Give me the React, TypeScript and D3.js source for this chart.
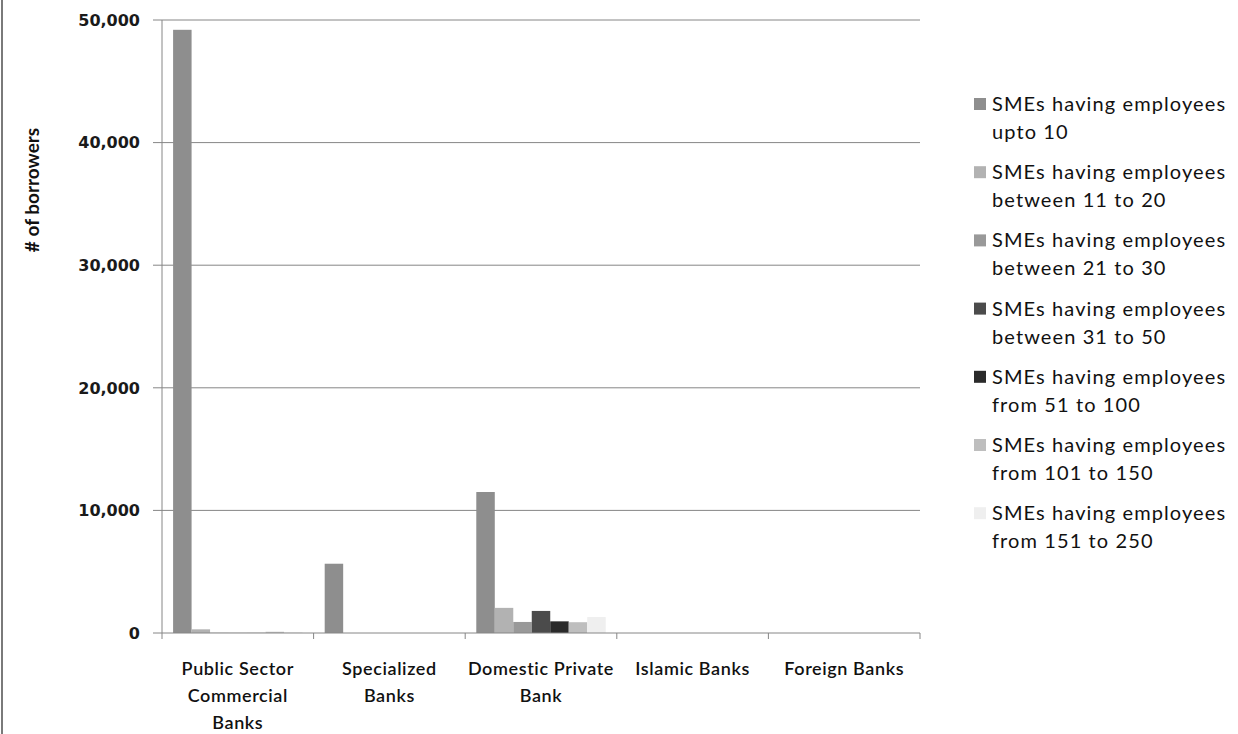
import React, { useEffect, useRef } from "react";
import * as d3 from "d3";

const categories = [
  ["Public Sector", "Commercial", "Banks"],
  ["Specialized", "Banks"],
  ["Domestic Private", "Bank"],
  ["Islamic Banks"],
  ["Foreign Banks"],
];
const categoryKeys = ["Public Sector Commercial Banks", "Specialized Banks", "Domestic Private Bank", "Islamic Banks", "Foreign Banks"];

const seriesNames = [
  ["SMEs having employees", "upto 10"],
  ["SMEs having employees", "between 11 to 20"],
  ["SMEs having employees", "between 21 to 30"],
  ["SMEs having employees", "between 31 to 50"],
  ["SMEs having employees", "from 51 to 100"],
  ["SMEs having employees", "from 101 to 150"],
  ["SMEs having employees", "from 151 to 250"],
];
const seriesColors = ["#8e8e8e", "#b2b2b2", "#999999", "#4b4b4b", "#2a2a2a", "#bebebe", "#efefef"];

// values per series, per category
const upTo10 = [49200, 5650, 11500, 0, 0];
const from11to20 = [300, 0, 2050, 0, 0];
const from21to30 = [20, 0, 900, 0, 0];
const from31to50 = [10, 0, 1800, 0, 0];
const from51to100 = [10, 0, 950, 0, 0];
const from101to150 = [100, 0, 880, 0, 0];
const from151to250 = [80, 0, 1300, 0, 0];
const seriesValues = [upTo10, from11to20, from21to30, from31to50, from51to100, from101to150, from151to250];

const yTicks = [0, 10000, 20000, 30000, 40000, 50000];

export default function App() {
  const ref = useRef<SVGSVGElement>(null);

  useEffect(() => {
    const svg = d3.select(ref.current);
    svg.selectAll("*").remove();

    const left = 162, right = 920, top = 20, bottom = 633;
    const x0 = d3.scaleBand().domain(categoryKeys).range([left, right]).paddingInner(0).paddingOuter(0);
    const x1 = d3.scaleBand().domain(d3.range(7).map(String)).range([0, x0.bandwidth()]).paddingInner(0).paddingOuter(0.6);
    const y = d3.scaleLinear().domain([0, 50000]).range([bottom, top]);

    // left border
    svg.append("rect").attr("x", 1).attr("y", 0).attr("width", 2).attr("height", 734).attr("fill", "#7a7a7a");

    // gridlines
    svg.append("g").selectAll("line").data(yTicks.filter(d => d > 0)).join("line")
      .attr("x1", left).attr("x2", right).attr("y1", d => y(d)).attr("y2", d => y(d))
      .attr("stroke", "#868686").attr("stroke-width", 1);

    // bars
    const g = svg.append("g");
    seriesValues.forEach((vals, si) => {
      g.append("g").selectAll("rect").data(vals).join("rect")
        .attr("x", (_, i) => (x0(categoryKeys[i]) as number) + (x1(String(si)) as number))
        .attr("width", x1.bandwidth())
        .attr("y", d => y(d))
        .attr("height", d => bottom - y(d))
        .attr("fill", seriesColors[si]);
    });

    // axes
    svg.append("line").attr("x1", left).attr("x2", left).attr("y1", top).attr("y2", bottom).attr("stroke", "#868686");
    svg.append("line").attr("x1", left).attr("x2", right).attr("y1", bottom).attr("y2", bottom).attr("stroke", "#868686");
    svg.append("g").selectAll("line").data(yTicks).join("line")
      .attr("x1", left - 9).attr("x2", left).attr("y1", d => y(d)).attr("y2", d => y(d)).attr("stroke", "#868686");
    const bounds = categoryKeys.map(k => x0(k) as number).concat([right]);
    svg.append("g").selectAll("line").data(bounds).join("line")
      .attr("x1", d => d).attr("x2", d => d).attr("y1", bottom).attr("y2", bottom + 6).attr("stroke", "#868686");

    // y tick labels
    const fmt = d3.format(",");
    svg.append("g").selectAll("text").data(yTicks).join("text")
      .attr("x", 140).attr("y", d => y(d)).attr("dy", "0.36em")
      .attr("text-anchor", "end")
      .attr("font-family", "DejaVu Sans").attr("font-weight", "bold").attr("font-size", 16)
      .attr("fill", "#1a1a1a")
      .text(d => fmt(d));

    // y title
    svg.append("text")
      .attr("transform", "translate(39,190) rotate(-90)")
      .attr("text-anchor", "middle")
      .attr("font-family", "Lato").attr("font-weight", "bold").attr("font-size", 19)
      .attr("fill", "#111")
      .text("# of borrowers");

    // category labels
    categories.forEach((lines, i) => {
      const cx = (x0(categoryKeys[i]) as number) + x0.bandwidth() / 2;
      svg.append("g").selectAll("text").data(lines).join("text")
        .attr("x", cx).attr("y", (_, j) => 675 + j * 27)
        .attr("text-anchor", "middle")
        .attr("font-family", "Lato").attr("font-weight", "600").attr("font-size", 18)
        .attr("letter-spacing", 0.6)
        .attr("fill", "#111")
        .text(d => d);
    });

    // legend
    const lg = svg.append("g");
    seriesNames.forEach((lines, i) => {
      const yy = 104 + i * 68.2;
      lg.append("rect").attr("x", 974).attr("y", yy - 6).attr("width", 12).attr("height", 12).attr("fill", seriesColors[i]);
      lg.append("g").selectAll("text").data(lines).join("text")
        .attr("x", 992).attr("y", (_, j) => yy + j * 28).attr("dy", "0.35em")
        .attr("font-family", "Lato").attr("font-size", 20)
        .attr("letter-spacing", 1.1)
        .attr("fill", "#111")
        .text(d => d);
    });
  }, []);

  return (
    <svg ref={ref} width={1238} height={734}
      style={{ position: "absolute", left: 0, top: 0, background: "#fff", display: "block" }} />
  );
}
